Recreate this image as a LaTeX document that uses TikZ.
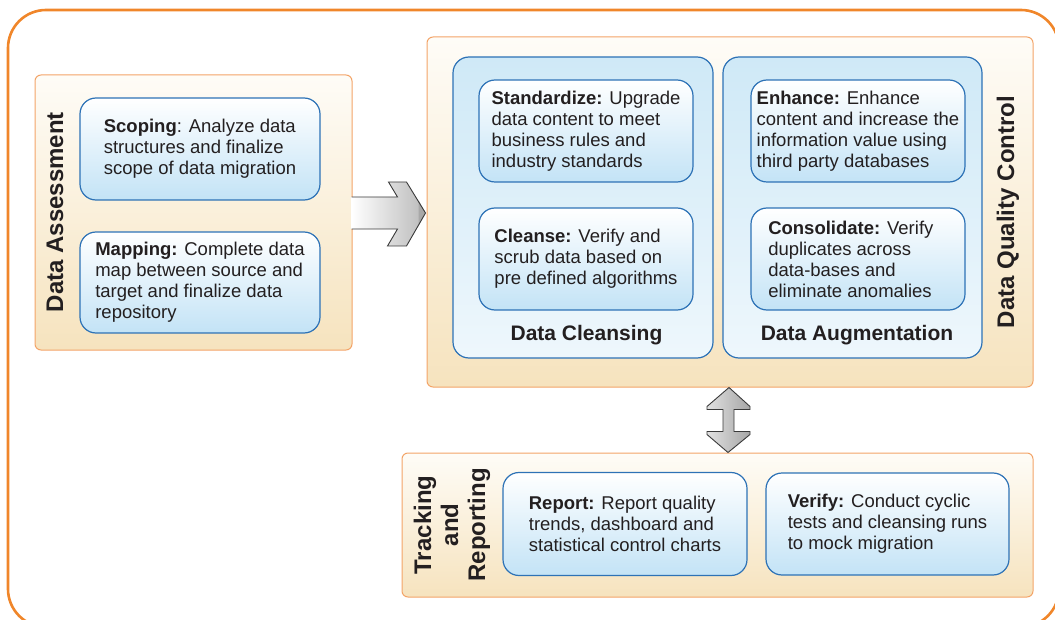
\documentclass[tikz,border=0pt]{standalone}
\usepackage{fontspec}
\setmainfont{Liberation Sans}
\usetikzlibrary{calc}

\definecolor{outerline}{HTML}{F0862A}
\definecolor{panelline}{HTML}{F3A468}
\definecolor{creamtop}{HTML}{FEFCF7}
\definecolor{creambot}{HTML}{F6E3BE}
\definecolor{blueline}{HTML}{2D72B6}
\definecolor{bluebot}{HTML}{C3E3F6}
\definecolor{conttop}{HTML}{CFE9F7}
\definecolor{contbot}{HTML}{EEF7FC}
\definecolor{ink}{HTML}{231F20}
\definecolor{arrline}{HTML}{3A3A3A}

\tikzset{
  panel/.style={draw=panelline, line width=1pt, rounded corners=6pt,
    top color=creamtop, bottom color=creambot, inner sep=0pt},
  holder/.style={draw=blueline, line width=1.2pt, rounded corners=16pt,
    top color=conttop, bottom color=contbot, inner sep=0pt},
  stepbox/.style={draw=blueline, line width=1.2pt, rounded corners=16pt,
    top color=white, bottom color=bluebot, align=left, text=ink,
    inner sep=0pt, font=\fontsize{18.5}{21}\selectfont},
  title/.style={text=ink, font=\bfseries\fontsize{21}{24}\selectfont, inner sep=0pt},
  sidetitle/.style={text=ink, rotate=90, align=center,
    font=\bfseries\fontsize{24}{27}\selectfont, inner sep=0pt},
  blockarrow/.style={draw=arrline, line width=0.9pt, line join=miter},
}

\begin{document}
\begin{tikzpicture}[x=1pt, y=-1pt]
\useasboundingbox (0,0) rectangle (1055,620);
\clip (0,0) rectangle (1055,620);

% outer frame
\draw[outerline, line width=2.6pt, rounded corners=38pt] (8,10) rectangle (1059,627);

% orange panels
\node[panel, minimum width=317pt, minimum height=275pt] (assess) at (193.5,212.5) {};
\node[panel, minimum width=606pt, minimum height=350pt] (dqc) at (730,212) {};
\node[panel, minimum width=631pt, minimum height=144pt] (track) at (717.5,525) {};

% blue holders inside data quality control
\node[holder, minimum width=260pt, minimum height=301pt] (clean) at (583,207.5) {};
\node[holder, minimum width=259pt, minimum height=301pt] (augment) at (852.5,207.5) {};

% step boxes
\node[stepbox, minimum width=240pt, minimum height=102pt] (scop) at (200,149)
  {\textbf{Scoping}: Analyze data\\structures and finalize\\scope of data migration};
\node[stepbox, minimum width=240pt, minimum height=101pt] (mapp) at (200,282.5)
  {\textbf{Mapping:} Complete data\\map between source and\\target and finalize data\\repository};
\node[stepbox, minimum width=214pt, minimum height=102pt] (stand) at (586,131)
  {\textbf{Standardize:} Upgrade\\data content to meet\\business rules and\\industry standards};
\node[stepbox, minimum width=214pt, minimum height=102pt] (cleanse) at (586,259)
  {\textbf{Cleanse:} Verify and\\scrub data based on\\pre defined algorithms};
\node[stepbox, minimum width=214pt, minimum height=102pt] (enh) at (858,131)
  {\textbf{Enhance:} Enhance\\content and increase the\\information value using\\third party databases};
\node[stepbox, minimum width=214pt, minimum height=102pt] (cons) at (858,259)
  {\textbf{Consolidate:} Verify\\duplicates across\\data-bases and\\eliminate anomalies\hspace*{16pt}};
\node[stepbox, minimum width=244pt, minimum height=103pt] (rep) at (625,524)
  {\textbf{Report:} Report quality\\trends, dashboard and\\statistical control charts};
\node[stepbox, minimum width=243pt, minimum height=102pt] (ver) at (887.5,524)
  {\textbf{Verify:} Conduct cyclic\\tests and cleansing runs\\to mock migration};

% titles
\node[title] (tclean) at (586.5,335) {Data Cleansing};
\node[title] (taug) at (857,335) {Data Augmentation};
\node[sidetitle] (tassess) at (55,212) {Data Assessment};
\node[sidetitle] (tdqc) at (1008,212) {Data Quality Control};
\node[sidetitle] (ttrack) at (452,525) {Tracking\\and\\Reporting};

% block arrow from assessment into quality control
\begin{scope}[shift={(dqc.west)}]
  \coordinate (rtip) at (-1,1);
  \shade[left color=white, right color=black!27]
    (-75,-15) -- (-29,-15) -- (-38,-30) -- (-20,-30) -- (rtip)
    -- (-20,34) -- (-39,34) -- (-29,17) -- (-75,17) -- cycle;
  \fill[black!40, opacity=0.6] (-8,-12) -- (rtip) -- (-8,14) -- cycle;
  \draw[blockarrow]
    (-75,-15) -- (-29,-15) -- (-38,-30) -- (-20,-30) -- (rtip)
    -- (-20,34) -- (-39,34) -- (-29,17) -- (-75,17);
\end{scope}

% two-way block arrow between quality control and tracking
\begin{scope}[shift={(dqc.south)}]
  \coordinate (utip) at (-1,0);
  \coordinate (dtip) at (-2,65);
  \shadedraw[blockarrow, left color=black!12, right color=black!35]
    (utip) -- (20,19) -- (20,22) -- (4,22) -- (4,44) -- (20,44) -- (20,47)
    -- (dtip) -- (-23,47) -- (-23,44) -- (-7,44) -- (-7,22) -- (-23,22)
    -- (-23,19) -- cycle;
\end{scope}
\end{tikzpicture}
\end{document}
